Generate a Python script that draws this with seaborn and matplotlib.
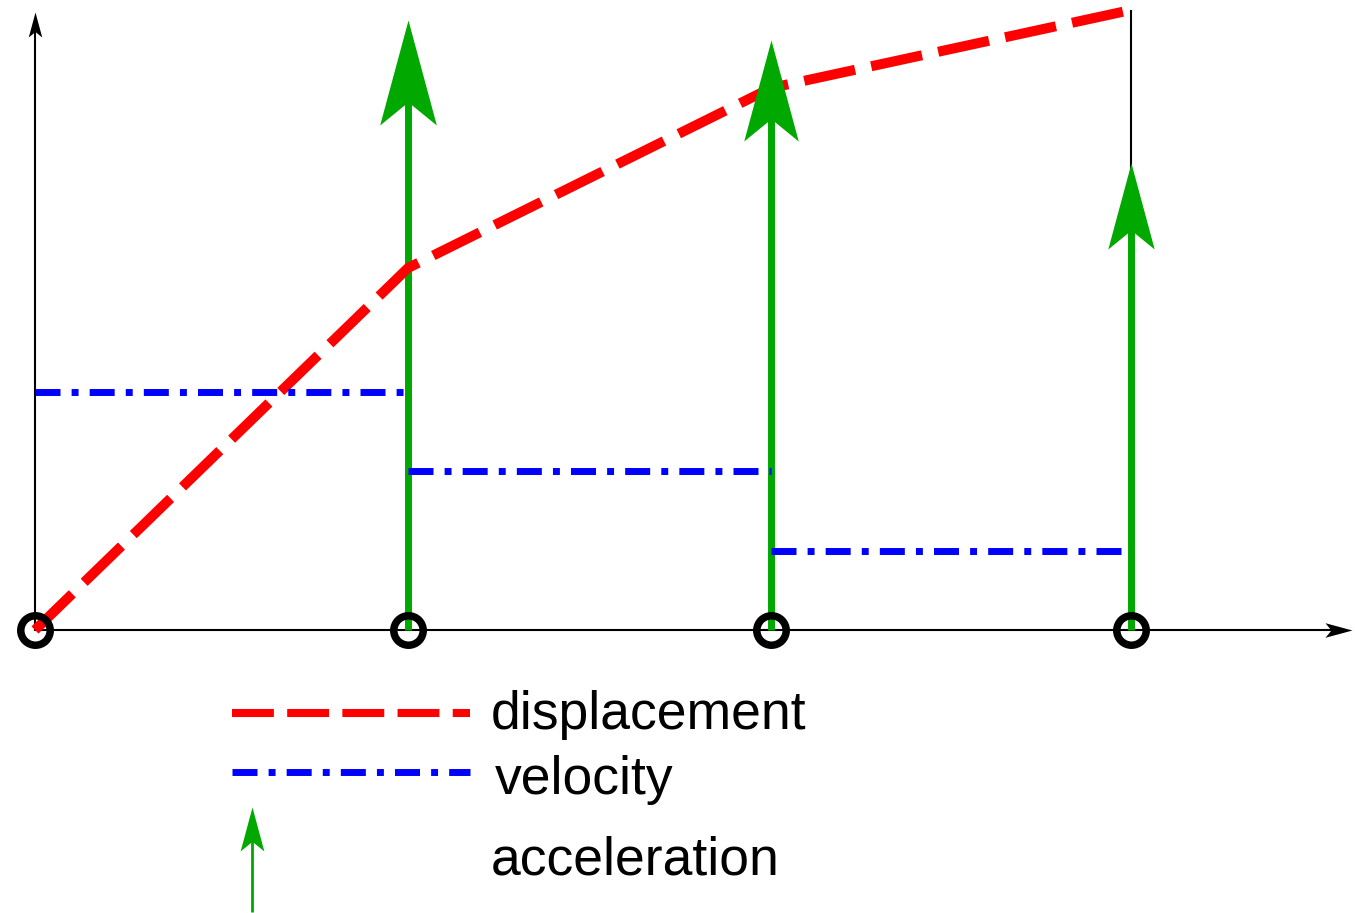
import matplotlib
matplotlib.use("Agg")
import matplotlib.pyplot as plt
import seaborn as sns
import numpy as np
from matplotlib.path import Path
from matplotlib.markers import MarkerStyle
from matplotlib.transforms import Affine2D
from matplotlib.lines import Line2D

sns.set_theme(style="white")
plt.rcParams['font.family'] = ['Liberation Sans', 'DejaVu Sans']

# data (units)
t_knots = [0.0, 3.73, 7.36, 10.96]
displacement = [0.0, 3.62, 5.42, 6.20]
velocity = [2.38, 1.59, 0.79]          # constant on each interval
acceleration = [6.10, 5.90, 4.67]      # impulse heights at knots 1..3
legend_labels = ["displacement", "velocity", "acceleration"]

# styles
RED = "#ff0000"
BLUE = "#0000ff"
GREEN = "#00a800"
PX = 0.72  # points per pixel at dpi 100

# arrow head shape (tip at origin, pointing up, notched back)
head_path = Path([(0, 0), (-0.27, -1.0), (0, -0.78), (0.27, -1.0), (0, 0)],
                 [Path.MOVETO, Path.LINETO, Path.LINETO, Path.LINETO, Path.CLOSEPOLY])
head_up = MarkerStyle(head_path)
head_right = MarkerStyle(head_path, transform=Affine2D().rotate_deg(-90))
head_len_px = [105, 101, 86]

fig = plt.figure(figsize=(13.55, 9.13), dpi=100)
ax = fig.add_axes([0, 0, 1, 1])
ax.set_xlim(-0.35, 13.20)
ax.set_ylim(-2.83, 6.30)
ax.set_axis_off()

# coordinate axes with arrow heads
x_end, y_end = 13.17, 6.18
ax.plot([0, x_end - 0.1], [0, 0], color="black", lw=1.5, zorder=1)
ax.plot([0, 0], [0, y_end - 0.1], color="black", lw=1.5, zorder=1)
ax.plot([x_end], [0], marker=head_right, ms=2 * 27 * PX, color="black",
        mew=0, zorder=1)
ax.plot([0], [y_end], marker=head_up, ms=2 * 25 * PX, color="black",
        mew=0, zorder=1)

# guide line at last knot
ax.vlines(t_knots[-1], 0, displacement[-1], color="black", lw=1.5, zorder=1)

# acceleration impulses
for tk, a, hl in zip(t_knots[1:], acceleration, head_len_px):
    ax.plot([tk, tk], [0, a - 0.6 * hl / 100], color=GREEN, lw=5, zorder=2,
            solid_capstyle="butt")
    ax.plot([tk], [a], marker=head_up, ms=2 * hl * PX, color=GREEN, mew=0,
            zorder=4)

# displacement
sns.lineplot(x=t_knots, y=displacement, ax=ax, color=RED, lw=7.2,
             linestyle=(0, (5.2, 1.65)), zorder=3, sort=False)

# velocity (piecewise constant)
for i, v in enumerate(velocity):
    ax.plot([t_knots[i], t_knots[i + 1]], [v, v], color=BLUE, lw=5,
            linestyle=(0, (3.6, 1.6, 1.0, 1.6)), zorder=3)

# knots
ax.plot(t_knots, [0] * len(t_knots), ls="none", marker="o", ms=21.2,
        mfc="none", mec="black", mew=5.4, zorder=5)

# legend drawn by hand, below the plot
tr = ax.transAxes
ax.add_line(Line2D([0.171, 0.347], [0.219, 0.219], transform=tr, color=RED,
                   lw=5.8, linestyle=(0, (5.2, 1.65))))
ax.add_line(Line2D([0.171, 0.347], [0.154, 0.154], transform=tr, color=BLUE,
                   lw=5, linestyle=(0, (3.6, 1.6, 1.0, 1.6))))
ax.add_line(Line2D([0.186, 0.186], [0.001, 0.085], transform=tr, color=GREEN,
                   lw=2, solid_capstyle="butt"))
ax.add_line(Line2D([0.186], [0.116], transform=tr, marker=head_up,
                   ms=2 * 44 * PX, color=GREEN, mew=0))

for label, x, y in zip(legend_labels, [0.3625, 0.3653, 0.3625],
                       [0.2015, 0.130, 0.0427]):
    ax.text(x, y, label, transform=tr, fontsize=38.5, ha="left",
            va="baseline", color="black")

fig.savefig("out.png", dpi=100)
